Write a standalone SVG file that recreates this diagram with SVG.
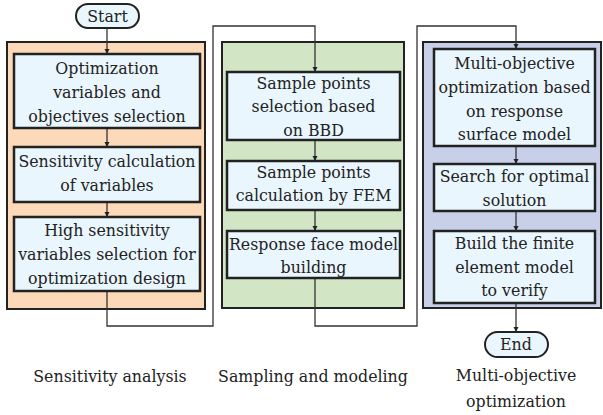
<svg xmlns="http://www.w3.org/2000/svg" width="603" height="415" viewBox="0 0 603 415">
<defs>
<marker id="arr" viewBox="0 0 10 10" refX="10" refY="5" markerWidth="5" markerHeight="9" markerUnits="userSpaceOnUse" orient="auto">
<path d="M0,0 L10,5 L0,10 z" fill="#222"/>
</marker>
<style>
text{font-family:'DejaVu Serif','Liberation Serif',serif;font-size:15.8px;fill:#222;text-anchor:middle}
.panel{stroke:#222;stroke-width:2}
.box{fill:#EAF6FD;stroke:#222;stroke-width:2.5}
.pill{fill:#EAF6FD;stroke:#222;stroke-width:2}
.con{fill:none;stroke:#333;stroke-width:1.3}
</style>
</defs>
<g id="panel-sensitivity"><rect class="panel" x="7" y="42" width="198" height="267" fill="#FCD9B8"/></g>
<g id="panel-sampling"><rect class="panel" x="222" y="42" width="182" height="266" fill="#D2E6C6"/></g>
<g id="panel-multi"><rect class="panel" x="423" y="42" width="178" height="266" fill="#C8CFE8"/></g>
<g id="connectors">
<path class="con" d="M107,28 V54" marker-end="url(#arr)"/>
<path class="con" d="M107,128 V147" marker-end="url(#arr)"/>
<path class="con" d="M107,202 V217" marker-end="url(#arr)"/>
<path class="con" d="M107,291 V326 H213 V26 H315 V72" marker-end="url(#arr)"/>
<path class="con" d="M315,140 V161" marker-end="url(#arr)"/>
<path class="con" d="M315,210 V231" marker-end="url(#arr)"/>
<path class="con" d="M315,278 V326 H417 V26 H516 V49" marker-end="url(#arr)"/>
<path class="con" d="M516,146 V164" marker-end="url(#arr)"/>
<path class="con" d="M516,211 V231" marker-end="url(#arr)"/>
<path class="con" d="M516,303 V332" marker-end="url(#arr)"/>
</g>
<g id="start"><rect class="pill" x="76" y="4" width="63" height="24" rx="12"/><text x="107.5" y="21.5">Start</text></g>
<g id="s1"><rect class="box" x="14" y="54" width="186" height="74"/><text x="107" y="74">Optimization</text><text x="107" y="98">variables and</text><text x="107" y="122">objectives selection</text></g>
<g id="s2"><rect class="box" x="14" y="147" width="186" height="55"/><text x="107" y="167">Sensitivity calculation</text><text x="107" y="191">of variables</text></g>
<g id="s3"><rect class="box" x="14" y="217" width="186" height="74"/><text x="107" y="236">High sensitivity</text><text x="107" y="260">variables selection for</text><text x="107" y="284">optimization design</text></g>
<g id="g1"><rect class="box" x="227" y="72" width="173" height="68"/><text x="313.5" y="89">Sample points</text><text x="313.5" y="112">selection based</text><text x="313.5" y="136">on BBD</text></g>
<g id="g2"><rect class="box" x="227" y="161" width="173" height="49"/><text x="313.5" y="178">Sample points</text><text x="313.5" y="201">calculation by FEM</text></g>
<g id="g3"><rect class="box" x="227" y="231" width="173" height="47"/><text x="313.5" y="250">Response face model</text><text x="313.5" y="273">building</text></g>
<g id="b1"><rect class="box" x="434" y="49" width="161" height="97"/><text x="514.5" y="69">Multi-objective</text><text x="514.5" y="93">optimization based</text><text x="514.5" y="117">on response</text><text x="514.5" y="140">surface model</text></g>
<g id="b2"><rect class="box" x="434" y="164" width="161" height="47"/><text x="514.5" y="182">Search for optimal</text><text x="514.5" y="206">solution</text></g>
<g id="b3"><rect class="box" x="434" y="231" width="161" height="72"/><text x="514.5" y="249">Build the finite</text><text x="514.5" y="273">element model</text><text x="514.5" y="296">to verify</text></g>
<g id="end"><rect class="pill" x="485" y="332" width="63" height="25" rx="12.5"/><text x="516" y="350">End</text></g>
<g id="labels">
<text x="110" y="382">Sensitivity analysis</text>
<text x="313" y="382">Sampling and modeling</text>
<text x="516" y="381">Multi-objective</text>
<text x="516" y="407">optimization</text>
</g>
</svg>
